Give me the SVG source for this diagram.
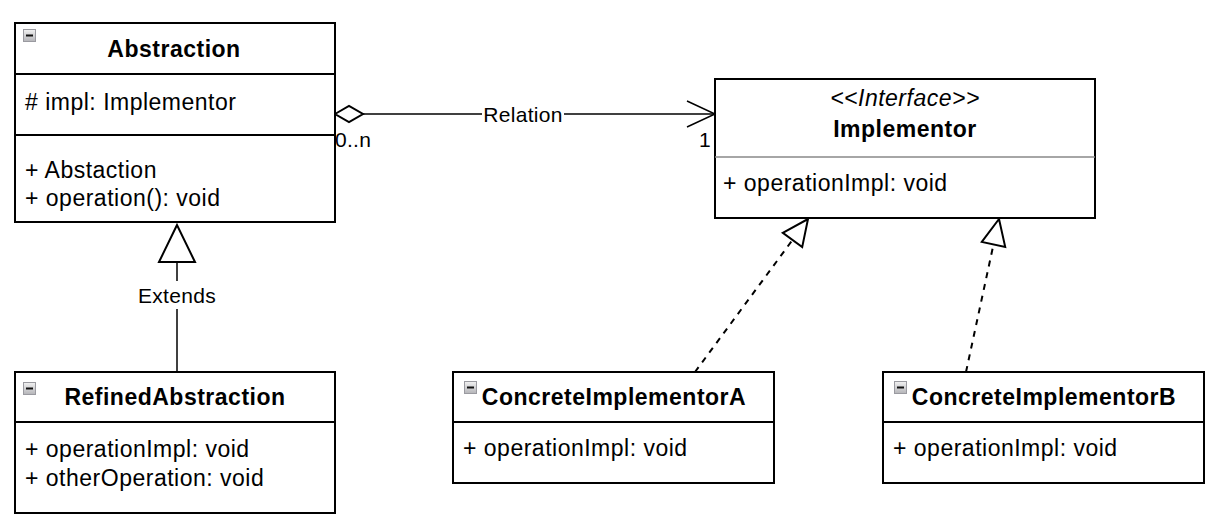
<svg xmlns="http://www.w3.org/2000/svg" width="1220" height="522" viewBox="0 0 1220 522">
<defs>
<linearGradient id="ig" x1="0" y1="0" x2="0" y2="1">
<stop offset="0" stop-color="#f2f2f2"/>
<stop offset="1" stop-color="#b4b4b8"/>
</linearGradient>
<g id="icon">
<rect x="0.5" y="0.5" width="12" height="12" fill="url(#ig)" stroke="#9a9aa0" stroke-width="1"/>
<line x1="3" y1="6.5" x2="10" y2="6.5" stroke="#111" stroke-width="2"/>
</g>
</defs>
<style>
.box{fill:#fff;stroke:#000;stroke-width:2}
.sep{stroke:#000;stroke-width:2}
.gsep{stroke:#888;stroke-width:1.5}
text{font-family:"Liberation Sans",Arial,Helvetica,sans-serif;fill:#000}
.t{font-size:23px;letter-spacing:0.5px}
.b{font-size:23px;font-weight:bold;letter-spacing:0.5px;text-anchor:middle}
.i{font-size:23px;font-style:italic;letter-spacing:0.5px;text-anchor:middle}
.l{font-size:21px;letter-spacing:0.3px}
.edge{fill:none;stroke:#000;stroke-width:1.5}
.dash{fill:none;stroke:#000;stroke-width:2;stroke-dasharray:6 6}
.head{fill:#fff;stroke:#000;stroke-width:2}
</style>

<g id="connectors">
<g id="relation">
<line class="edge" x1="363" y1="114" x2="714" y2="114"/>
<polygon class="head" points="335,114 349,106 363,114 349,122"/>
<polyline class="edge" points="687,101 715,114 687,127" stroke-width="2"/>
<rect x="482" y="100" width="82" height="26" fill="#fff"/>
<text class="l" x="523" y="122" text-anchor="middle">Relation</text>
<text class="l" x="335" y="147">0..n</text>
<text class="l" x="711" y="147" text-anchor="end">1</text>
</g>
<g id="extends">
<line class="edge" x1="177" y1="262" x2="177" y2="372"/>
<polygon class="head" points="177,225 159,262 195,262"/>
<rect x="134" y="281" width="86" height="28" fill="#fff"/>
<text class="l" x="177" y="303" text-anchor="middle">Extends</text>
</g>
<g id="realizeA">
<line class="dash" x1="695" y1="372" x2="792.5" y2="240"/>
<polygon class="head" points="808,219 802.2,247.1 782.8,232.9"/>
</g>
<g id="realizeB">
<line class="dash" x1="966" y1="372" x2="993.5" y2="244.4"/>
<polygon class="head" points="999,219 1005.2,246.9 981.8,241.9"/>
</g>
</g>

<g id="Abstraction">
<rect class="box" x="15" y="23" width="320" height="199"/>
<line class="sep" x1="15" y1="74" x2="335" y2="74"/>
<line class="sep" x1="15" y1="135" x2="335" y2="135"/>
<use href="#icon" x="23" y="29"/>
<text class="b" x="174" y="57">Abstraction</text>
<text class="t" x="25" y="110"># impl: Implementor</text>
<text class="t" x="25" y="178">+ Abstaction</text>
<text class="t" x="25" y="206">+ operation(): void</text>
</g>

<g id="Implementor">
<rect class="box" x="715" y="79" width="380" height="139"/>
<line class="gsep" x1="715" y1="157" x2="1095" y2="157"/>
<text class="i" x="905" y="106">&lt;&lt;Interface&gt;&gt;</text>
<text class="b" x="905" y="137">Implementor</text>
<text class="t" x="723" y="191">+ operationImpl: void</text>
</g>

<g id="RefinedAbstraction">
<rect class="box" x="15" y="372" width="320" height="141"/>
<line class="sep" x1="15" y1="422" x2="335" y2="422"/>
<use href="#icon" x="23" y="382"/>
<text class="b" x="175" y="405">RefinedAbstraction</text>
<text class="t" x="25" y="457">+ operationImpl: void</text>
<text class="t" x="25" y="486">+ otherOperation: void</text>
</g>

<g id="ConcreteImplementorA">
<rect class="box" x="453" y="372" width="321" height="111"/>
<line class="sep" x1="453" y1="422" x2="774" y2="422"/>
<use href="#icon" x="464" y="381"/>
<text class="b" x="614" y="405">ConcreteImplementorA</text>
<text class="t" x="463" y="456">+ operationImpl: void</text>
</g>

<g id="ConcreteImplementorB">
<rect class="box" x="883" y="372" width="321" height="111"/>
<line class="sep" x1="883" y1="422" x2="1204" y2="422"/>
<use href="#icon" x="894" y="381"/>
<text class="b" x="1044" y="405">ConcreteImplementorB</text>
<text class="t" x="893" y="456">+ operationImpl: void</text>
</g>
</svg>
